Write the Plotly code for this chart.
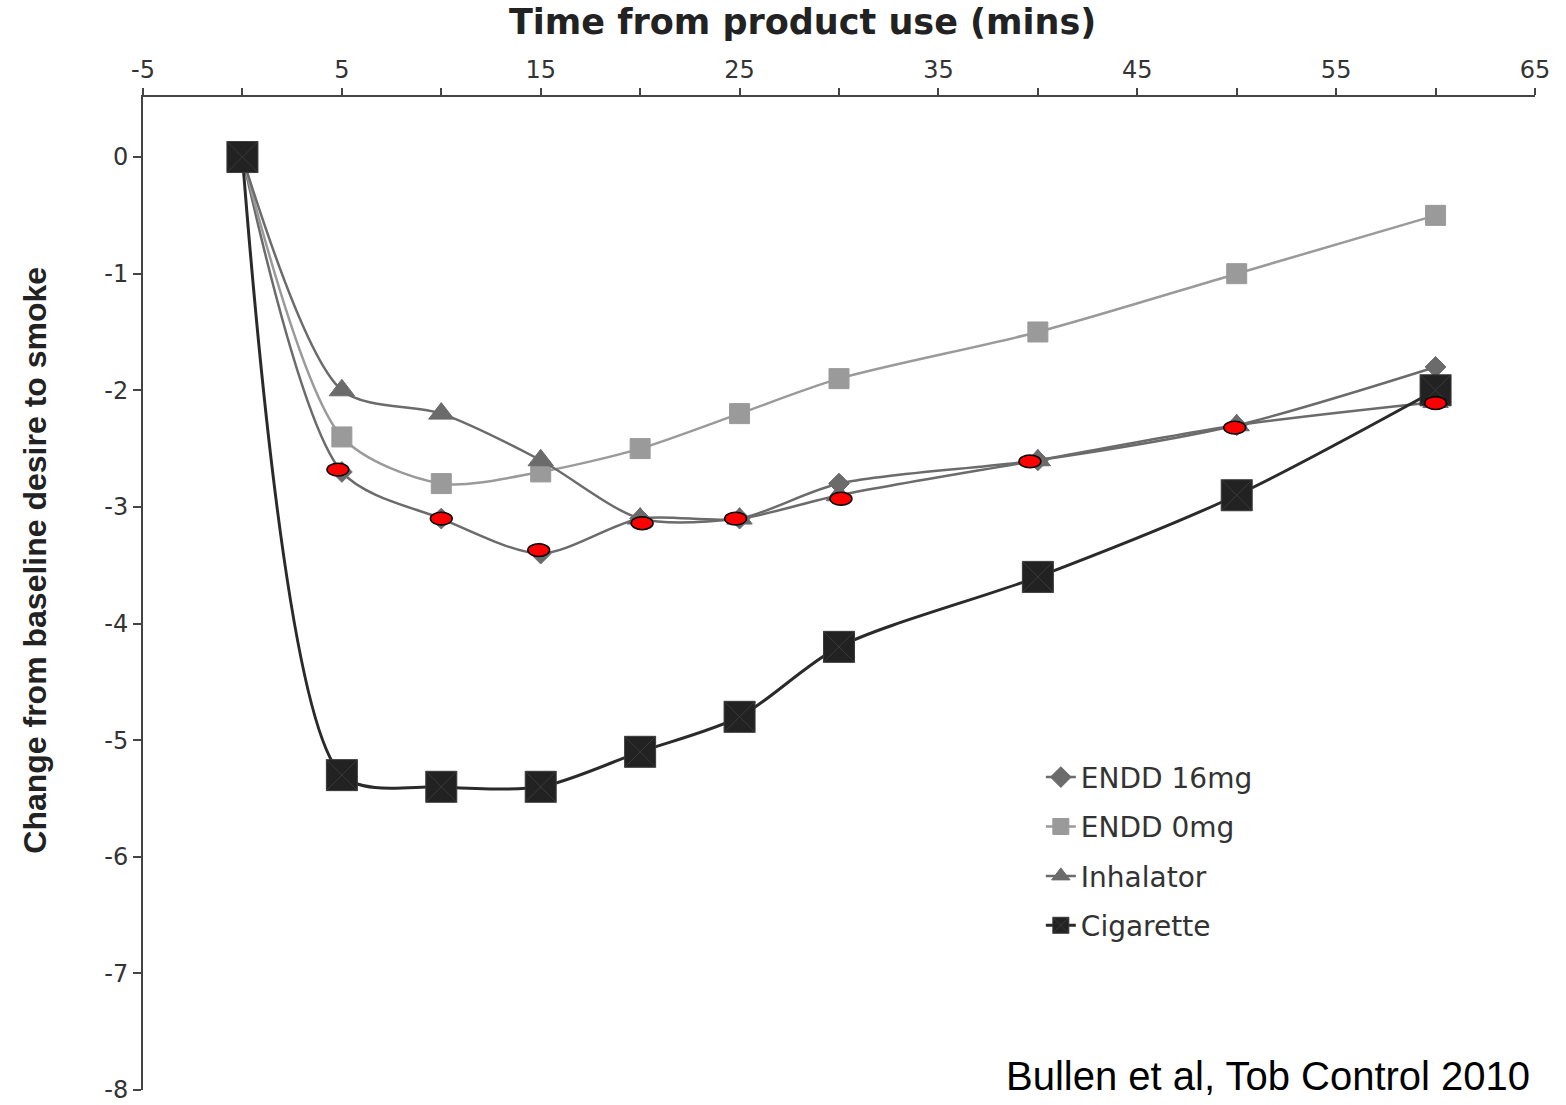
import plotly.graph_objects as go

time_min = [0, 5, 10, 15, 20, 25, 30, 40, 50, 60]
endd16 = [0, -2.7, -3.1, -3.4, -3.1, -3.1, -2.8, -2.6, -2.3, -1.8]
endd0 = [0, -2.4, -2.8, -2.7, -2.5, -2.2, -1.9, -1.5, -1.0, -0.5]
inhalator = [0, -2.0, -2.2, -2.6, -3.1, -3.1, -2.9, -2.6, -2.3, -2.1]
cigarette = [0, -5.3, -5.4, -5.4, -5.1, -4.8, -4.2, -3.6, -2.9, -2.0]

# red highlight ovals
oval_x = [4.8, 10.0, 14.9, 20.1, 24.8, 30.1, 39.6, 49.9, 60.0]
oval_y = [-2.68, -3.10, -3.37, -3.14, -3.10, -2.93, -2.61, -2.32, -2.11]

x_tickvals = [-5, 0, 5, 10, 15, 20, 25, 30, 35, 40, 45, 50, 55, 60, 65]
x_ticktext = ["-5", "", "5", "", "15", "", "25", "", "35", "", "45", "", "55", "", "65"]
y_tickvals = [0, -1, -2, -3, -4, -5, -6, -7, -8]
y_ticktext = ["0", "-1", "-2", "-3", "-4", "-5", "-6", "-7", "-8"]

fig = go.Figure()

series = [
    ("ENDD 16mg", endd16, "#6b6b6b", "#6b6b6b", "diamond", 16, 2.5),
    ("ENDD 0mg", endd0, "#9a9a9a", "#9a9a9a", "square", 20, 2.5),
    ("Inhalator", inhalator, "#6b6b6b", "#6b6b6b", "triangle-up", 22, 2.5),
    ("Cigarette", cigarette, "#2a2a2a", "#222222", "square-x", 31, 3),
]
for name, ys, lc, mc, sym, sz, lw in series:
    fig.add_trace(go.Scatter(
        x=time_min, y=ys, name=name, mode="lines+markers",
        line=dict(color=lc, width=lw, shape="spline", smoothing=0.8),
        marker=dict(symbol=sym, size=sz, color=mc,
                    line=dict(color="#3a3a3a" if name == "Cigarette" else mc, width=1)),
        legendgroup=name,
    ))

# red ovals as shapes in data coordinates
for ox, oy in zip(oval_x, oval_y):
    fig.add_shape(type="circle", xref="x", yref="y",
                  x0=ox - 0.55, x1=ox + 0.55, y0=oy - 0.055, y1=oy + 0.055,
                  fillcolor="#ff0000", line=dict(color="black", width=1.5), layer="above")

fig.update_layout(
    width=1566, height=1105,
    margin=dict(l=143, r=31, t=97, b=15),
    paper_bgcolor="white", plot_bgcolor="white",
    font=dict(family="DejaVu Sans", color="#222"),
    showlegend=True,
    legend=dict(x=0.645, y=0.340, xanchor="left", yanchor="top",
                font=dict(family="DejaVu Sans", size=28, color="#333"),
                bgcolor="rgba(0,0,0,0)", traceorder="grouped", tracegroupgap=10),
    xaxis=dict(range=[-5, 65], side="top", tickmode="array", tickvals=x_tickvals,
               ticktext=x_ticktext, ticks="outside", ticklen=7, tickwidth=2,
               tickcolor="#444", showline=True, linecolor="#444", linewidth=2,
               showgrid=False, zeroline=False, automargin=False,
               tickfont=dict(family="DejaVu Sans", size=24, color="#333")),
    yaxis=dict(range=[-8, 0.515], tickmode="array", tickvals=y_tickvals,
               ticktext=y_ticktext,
               ticks="outside", ticklen=8, tickwidth=2, tickcolor="#444",
               showline=True, linecolor="#444", linewidth=2,
               showgrid=False, zeroline=False, automargin=False,
               tickfont=dict(family="DejaVu Sans", size=24, color="#333")),
)

fig.add_annotation(text="<b>Time from product use (mins)</b>", xref="paper", yref="paper",
                   x=0.474, y=1.0755, xanchor="center", yanchor="middle", showarrow=False,
                   font=dict(family="DejaVu Sans", size=35, color="#222"))
fig.add_annotation(text="<b>Change from baseline desire to smoke</b>", xref="paper", yref="paper",
                   x=-0.0776, y=0.534, xanchor="center", yanchor="middle", showarrow=False,
                   textangle=-90,
                   font=dict(family="Liberation Sans", size=32, color="#222"))
fig.add_annotation(text="Bullen et al, Tob Control 2010", xref="paper", yref="paper",
                   x=0.6185, y=0.014, xanchor="left", yanchor="middle", showarrow=False,
                   font=dict(family="Liberation Sans", size=40, color="black"))

fig.write_html("out.html")
